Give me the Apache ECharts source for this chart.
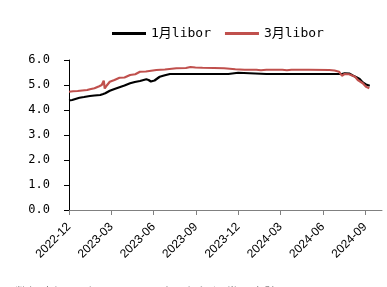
<!DOCTYPE html>
<html>
<head>
<meta charset="utf-8">
<script src="https://cdn.jsdelivr.net/npm/echarts@6/dist/echarts.min.js"></script>
<style>html,body{margin:0;padding:0;background:#fff;}#c{width:387px;height:287px;}</style>
</head>
<body>
<div id="c"></div>
<script>
var seriesNames = ['1月libor', '3月libor'];
var dates1 = ['2022-12-01','2022-12-08','2022-12-15','2022-12-24','2023-01-03','2023-01-16','2023-01-26','2023-02-07','2023-02-13','2023-02-15','2023-02-17','2023-02-26','2023-03-08','2023-03-19','2023-03-30','2023-04-11','2023-04-21','2023-05-02','2023-05-16','2023-05-21','2023-05-26','2023-06-03','2023-06-14','2023-06-25','2023-07-06','2023-08-15','2023-09-20','2023-10-25','2023-11-10','2023-11-12','2023-12-01','2023-12-03','2024-02-01','2024-04-01','2024-06-01','2024-07-12','2024-07-18','2024-07-28','2024-08-05','2024-08-14','2024-08-20','2024-08-27','2024-09-03','2024-09-11'];
var libor1 = [4.38,4.40,4.44,4.49,4.52,4.56,4.58,4.60,4.64,4.72,4.67,4.77,4.84,4.91,4.98,5.07,5.12,5.16,5.23,5.20,5.14,5.18,5.33,5.39,5.44,5.44,5.44,5.44,5.44,5.49,5.49,5.44,5.44,5.44,5.44,5.44,5.47,5.46,5.38,5.30,5.24,5.10,5.02,4.97];
var dates3 = ['2022-12-01','2022-12-10','2022-12-20','2022-12-30','2023-01-10','2023-01-16','2023-01-26','2023-02-05','2023-02-10','2023-02-14','2023-02-16','2023-02-20','2023-02-26','2023-03-08','2023-03-19','2023-03-30','2023-04-11','2023-04-22','2023-05-02','2023-05-15','2023-06-07','2023-06-25','2023-07-20','2023-08-10','2023-08-20','2023-08-31','2023-09-15','2023-10-10','2023-11-01','2023-11-25','2023-12-15','2024-01-10','2024-01-20','2024-02-01','2024-03-05','2024-03-15','2024-03-25','2024-05-01','2024-06-15','2024-06-26','2024-07-06','2024-07-12','2024-07-18','2024-07-28','2024-08-10','2024-08-16','2024-08-27','2024-09-03','2024-09-10'];
var libor3 = [4.73,4.75,4.76,4.78,4.80,4.83,4.87,4.95,5.00,5.17,4.86,4.98,5.13,5.20,5.29,5.30,5.40,5.43,5.53,5.54,5.60,5.62,5.67,5.68,5.72,5.70,5.69,5.68,5.67,5.63,5.61,5.61,5.59,5.61,5.61,5.59,5.61,5.61,5.60,5.58,5.53,5.37,5.44,5.43,5.33,5.20,5.07,4.93,4.87];
var xTickLabels = ['2022-12','2023-03','2023-06','2023-09','2023-12','2024-03','2024-06','2024-09'];
var yTicks = [0,1,2,3,4,5,6];
var sourceText = '数据来源：Bloomberg，中国银河证券研究院';

function monthIndex(s){
  var p = s.split('-'); var y=+p[0], m=+p[1], d=+p[2];
  var dim = new Date(y, m, 0).getDate();
  return (y-2022)*12 + (m-12) + (d-1)/dim;
}
function labelIndex(s){ var p=s.split('-'); return (+p[0]-2022)*12 + (+p[1]-12); }
var tickVals = xTickLabels.map(labelIndex);
function toPairs(ds, vs){ return ds.map(function(d,i){ return [monthIndex(d), vs[i]]; }); }
function fmtX(v){
  var idx = tickVals.indexOf(Math.round(v));
  return idx >= 0 ? xTickLabels[idx] : '';
}

var chart = echarts.init(document.getElementById('c'), null, {renderer:'canvas'});
chart.setOption({
  animation:false,
  backgroundColor:'#fff',
  grid:{left:69, right:5, top:60, bottom:77, containLabel:false},
  legend:{
    data:seriesNames, left:107, top:22, icon:'rect', itemWidth:34, itemHeight:3, itemGap:14,
    textStyle:{fontFamily:'DejaVu Sans Mono, Noto Sans CJK SC', fontSize:13, color:'#000'}
  },
  xAxis:{
    type:'value', min:0, max:22.2, interval:3,
    axisLine:{show:true, lineStyle:{color:'#808080', width:1}},
    axisTick:{show:true, length:5, lineStyle:{color:'#808080'}, customValues:tickVals},
    axisLabel:{rotate:45, fontSize:12, fontFamily:'Liberation Sans', color:'#000', margin:15,
      customValues:tickVals, formatter:fmtX},
    splitLine:{show:false}
  },
  yAxis:{
    type:'value', min:0, max:6, interval:1,
    axisLine:{show:true, lineStyle:{color:'#000', width:1}},
    axisTick:{show:true, length:5, lineStyle:{color:'#000'}},
    axisLabel:{fontSize:12, fontFamily:'DejaVu Sans Mono', color:'#000', margin:19,
      formatter:function(v){return v.toFixed(1);}},
    splitLine:{show:false}
  },
  series:[
    {name:seriesNames[0], type:'line', symbol:'none', data:toPairs(dates1, libor1),
      lineStyle:{color:'#000', width:2.2}, itemStyle:{color:'#000'}, z:2},
    {name:seriesNames[1], type:'line', symbol:'none', data:toPairs(dates3, libor3),
      lineStyle:{color:'#C0504D', width:2.2}, itemStyle:{color:'#C0504D'}, z:3}
  ],
  graphic:[{type:'text', left:15, top:286, style:{text:sourceText, fontSize:13, fill:'#888', fontFamily:'Noto Sans CJK SC'}}]
});
</script>
</body>
</html>
